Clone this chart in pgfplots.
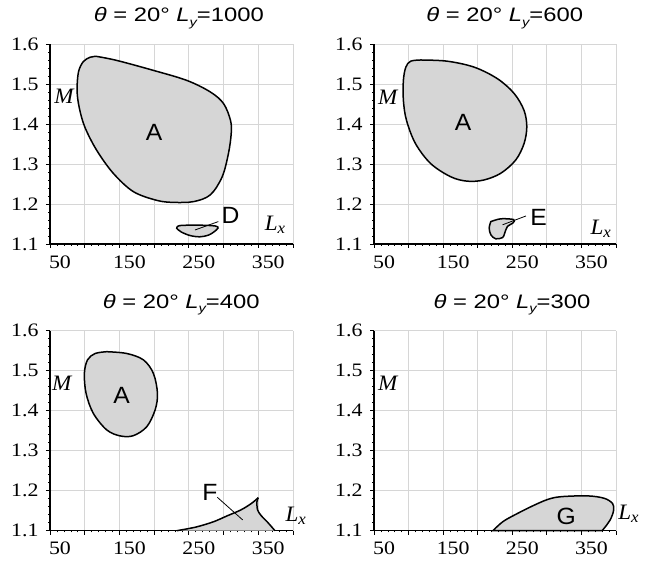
\documentclass[border=0pt]{standalone}
\usepackage{graphicx}
\usepackage{fontspec}
\setmainfont{Liberation Serif}
\newfontfamily\arial{Liberation Sans}
\usepackage{pgfplots}
\pgfplotsset{compat=1.18}

\definecolor{shade}{RGB}{214,214,214}
\definecolor{gridgray}{RGB}{214,214,214}
% horizontally widened text
\newcommand\wide[2][1.15]{\scalebox{#1}[1]{#2}}
\newcommand\ptitle[1]{\wide[1.22]{{\itshape θ} = 20° {\itshape L}\raisebox{-0.45ex}{\fontsize{12}{12}\selectfont\itshape y}=#1}}
\newcommand\Lx{\wide[1.05]{L\raisebox{-0.3ex}{\fontsize{16}{16}\selectfont x}}}

\pgfplotsset{
  panel/.style={
    scale only axis, width=243pt, height=200pt, anchor=south west,
    xmin=50, xmax=400, ymin=1.1, ymax=1.6,
    axis x line*=bottom, axis y line*=left,
    axis line style={line width=1.5pt, -},
    xtick={50,100,150,200,250,300,350,400},
    xticklabels={\wide{50},,\wide{150},,\wide{250},,\wide{350},},
    ytick={1.1,1.2,1.3,1.4,1.5,1.6},
    yticklabels={\wide{1.1},\wide{1.2},\wide{1.3},\wide{1.4},\wide{1.5},\wide{1.6}},
    minor x tick num=4, minor y tick num=4,
    tick align=outside, major tick length=4pt, minor tick length=1.6pt,
    major tick style={black, line width=0.9pt},
    minor tick style={black, line width=0.6pt},
    grid=major, major grid style={gridgray, line width=0.9pt},
    tick label style={font=\fontsize{19}{21}\selectfont},
    xticklabel style={xshift=10pt, yshift=-4pt},
    yticklabel style={xshift=-4pt},
    clip=false,
  },
  region/.style={fill=shade, draw=black, line width=1.5pt, smooth, tension=0.55},
  edge/.style={draw=black, line width=1.5pt, smooth, tension=0.5},
}
\tikzset{
  ttl/.style={font=\arial\fontsize{19.5}{22}\selectfont},
  tag/.style={font=\arial\fontsize{23.5}{26}\selectfont},
  var/.style={font=\fontsize{22}{24}\selectfont\itshape},
  lead/.style={draw=black, line width=0.8pt},
}

\begin{document}
\begin{tikzpicture}
\useasboundingbox (0,0) rectangle (651pt,561pt);

% ---------- L_y = 1000 ----------
\begin{axis}[panel, at={(50pt,317pt)}]
\addplot[region] coordinates {
 (117,1.569) (146,1.559) (199,1.534) (247,1.509) (281,1.480) (300,1.451)
 (310,1.409) (311,1.376) (307,1.326) (298,1.268) (281,1.223) (257,1.206)
 (228,1.204) (204,1.209) (170,1.231) (141,1.277) (117,1.335) (100,1.393)
 (92,1.442) (89,1.484) (91,1.530) (98,1.556) (108,1.567) (117,1.569)} -- cycle;
\addplot[region] coordinates {
 (232.5,1.139) (237,1.146) (266,1.147) (288,1.145) (292,1.140) (286,1.130)
 (278,1.122) (266,1.118) (252,1.121) (239,1.130) (232.5,1.139)} -- cycle;
\draw[lead] (axis cs:258.8,1.135) -- (axis cs:292.4,1.156);
\node[tag] at (axis cs:200,1.38) {\wide[1.05]{A}};
\node[tag] at (axis cs:310,1.171) {\wide[1.05]{D}};
\node[var] at (axis cs:70,1.47) {\wide[1.05]{M}};
\node[var] at (axis cs:374,1.148) {\Lx};
\node[ttl] at (rel axis cs:0.53,1.13) {\ptitle{1000}};
\end{axis}

% ---------- L_y = 600 ----------
\begin{axis}[panel, at={(374pt,317pt)}, width=242pt]
\addplot[region] coordinates {
 (117.6,1.560) (156,1.557) (195,1.542) (228.7,1.513) (252.8,1.476) (267,1.434)
 (271,1.393) (267,1.351) (255,1.310) (233.5,1.277) (209,1.260) (185,1.257)
 (161,1.268) (132,1.301) (110,1.351) (97,1.409) (92.5,1.459) (92.5,1.509)
 (96,1.542) (103,1.557) (117.6,1.560)} -- cycle;
\addplot[region] coordinates {
 (219,1.156) (233.5,1.163) (252,1.161) (250.6,1.152) (243,1.144) (239,1.127)
 (236,1.116) (226,1.113) (219,1.123) (216.6,1.140) (219,1.156)} -- cycle;
\draw[lead] (axis cs:236,1.148) -- (axis cs:269.7,1.170);
\node[tag] at (axis cs:179,1.403) {\wide[1.05]{A}};
\node[tag] at (axis cs:288,1.166) {\wide[1.05]{E}};
\node[var] at (axis cs:70,1.467) {\wide[1.05]{M}};
\node[var] at (axis cs:378,1.138) {\Lx};
\node[ttl] at (rel axis cs:0.54,1.13) {\ptitle{600}};
\end{axis}

% ---------- L_y = 400 ----------
\begin{axis}[panel, at={(50pt,30.3pt)}]
\addplot[region] coordinates {
 (131.7,1.5475) (160.6,1.543) (184.6,1.527) (199,1.493) (204.8,1.443)
 (201.4,1.402) (189.4,1.360) (170,1.3375) (151,1.337) (131.7,1.352)
 (112.5,1.393) (102,1.443) (99.5,1.493) (104,1.527) (115,1.543) (131.7,1.5475)} -- cycle;
\addplot[fill=shade, draw=none] coordinates {
 (232.7,1.1) (260,1.109) (285,1.122) (305,1.137) (325,1.152) (340,1.168)
 (350,1.1825) (348,1.172) (349,1.152) (354,1.138) (364,1.120) (374,1.1)} -- cycle;
\addplot[edge] coordinates {
 (232.7,1.1) (260,1.109) (285,1.122) (305,1.137) (325,1.152) (340,1.168) (350,1.1825)};
\addplot[edge] coordinates {
 (350,1.1825) (348,1.172) (349,1.152) (354,1.138) (364,1.120) (374,1.1)};
\draw[lead] (axis cs:291,1.1835) -- (axis cs:327.5,1.127);
\node[tag] at (axis cs:153,1.437) {\wide[1.05]{A}};
\node[tag] at (axis cs:280.5,1.196) {\wide[1.05]{F}};
\node[var] at (axis cs:67,1.468) {\wide[1.05]{M}};
\node[var] at (axis cs:404,1.137) {\Lx};
\node[ttl] at (rel axis cs:0.54,1.13) {\ptitle{400}};
\end{axis}

% ---------- L_y = 300 ----------
\begin{axis}[panel, at={(374pt,30.3pt)}, width=242pt]
\addplot[region] coordinates {
 (221.9,1.1) (236.3,1.1225) (253,1.139) (277,1.160) (301,1.178) (320.6,1.185)
 (359,1.187) (383,1.181) (395,1.168) (396.6,1.152) (392.8,1.131) (385.6,1.112)
 (379.8,1.1)} -- cycle;
\node[tag] at (axis cs:328,1.135) {\wide[1.05]{G}};
\node[var] at (axis cs:70,1.468) {\wide[1.05]{M}};
\node[var] at (axis cs:418,1.143) {\Lx};
\node[ttl] at (rel axis cs:0.57,1.13) {\ptitle{300}};
\end{axis}
\end{tikzpicture}
\end{document}
